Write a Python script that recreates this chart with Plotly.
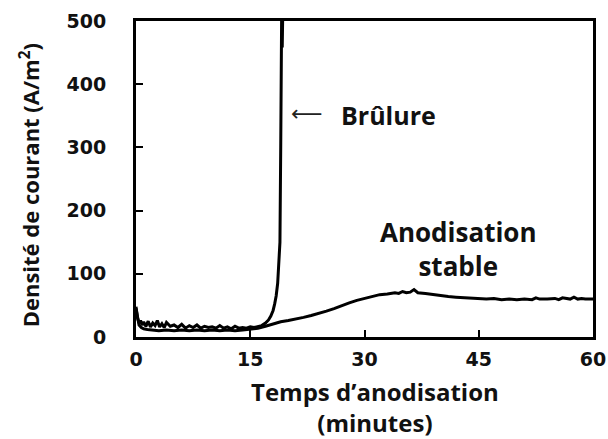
import plotly.graph_objects as go

# --- Data ---
# Run that ends in burning ("Brûlure")
burn_time = [0, 0.2, 0.4, 0.6, 0.8, 1.0, 1.3, 1.6, 1.9, 2.2, 2.5, 2.8, 3.1, 3.4, 3.7, 4.0,
             4.5, 5.0, 5.5, 6.0, 6.5, 7.0, 7.5, 8.0, 8.5, 9.0, 9.5, 10.0, 10.5, 11.0,
             11.5, 12.0, 12.5, 13.0, 13.5, 14.0, 14.5, 15.0, 15.5, 16.0, 16.5, 17.0,
             17.4, 17.7, 18.0, 18.2, 18.4, 18.6, 18.8, 18.9, 19.0, 19.05, 19.1, 19.15,
             19.2, 19.25, 19.3, 19.35, 19.4]
burn_value = [48, 30, 22, 26, 19, 24, 17, 25, 16, 22, 18, 26, 16, 21, 15, 23,
              17, 19, 15, 20, 14, 18, 15, 19, 14, 17, 15, 16, 14, 18,
              14, 16, 13, 17, 14, 15, 14, 16, 15, 16, 18, 22,
              27, 33, 42, 52, 65, 85, 120, 150, 300, 520, 470, 560,
              458, 580, 462, 600, 620]

# Stable anodisation run
stable_time = [0, 0.2, 0.4, 0.7, 1.0, 1.5, 2, 3, 4, 5, 6, 7, 8, 9, 10, 11, 12, 13, 14, 15,
               16, 17, 18, 19, 20, 21, 22, 23, 24, 25, 26, 27, 28, 29, 30,
               31, 32, 33, 34, 34.5, 35, 35.5, 36, 36.5, 37, 38, 39, 40, 41, 42, 43, 44,
               45, 46, 47, 48, 49, 50, 51, 52, 52.5, 53, 54, 55, 55.5, 56, 57, 57.5,
               58, 58.5, 59, 60]
stable_value = [45, 28, 19, 15, 13, 12, 11, 10, 11, 10, 11, 10, 11, 10, 11, 10, 11, 10, 11, 12,
                14, 17, 21, 24, 26, 28, 31, 34, 37, 41, 45, 50, 54, 58, 61,
                64, 67, 68, 70, 69, 72, 70, 71, 75, 70, 69, 67, 65, 64, 63, 62, 61,
                61, 60, 61, 59, 60, 59, 60, 59, 62, 60, 60, 61, 59, 62, 60, 63,
                60, 61, 60, 60]

x_ticks = [0, 15, 30, 45, 60]
y_ticks = [0, 100, 200, 300, 400, 500]

tick_font = dict(family="DejaVu Sans", size=19, color="#111111", weight="bold")

fig = go.Figure()
fig.add_trace(go.Scatter(x=burn_time, y=burn_value, mode="lines",
                         line=dict(color="black", width=3), showlegend=False))
fig.add_trace(go.Scatter(x=stable_time, y=stable_value, mode="lines",
                         line=dict(color="black", width=3), showlegend=False))

fig.update_layout(
    width=608, height=439,
    margin=dict(l=136, r=15, t=21, b=102),
    paper_bgcolor="white", plot_bgcolor="white",
    showlegend=False,
)
fig.update_xaxes(range=[0, 60], tickvals=x_ticks, ticktext=[str(v) for v in x_ticks],
                 showgrid=False, zeroline=False, showline=True, mirror=True,
                 linecolor="black", linewidth=3, ticks="inside", ticklen=7,
                 tickwidth=1.5, tickcolor="black", tickfont=tick_font,
                 ticklabelstandoff=3, automargin=False)
fig.update_yaxes(range=[0, 500], tickvals=y_ticks, ticktext=[str(v) for v in y_ticks],
                 showgrid=False, zeroline=False, showline=True, mirror=True,
                 linecolor="black", linewidth=3, ticks="inside", ticklen=7,
                 tickwidth=1.5, tickcolor="black", tickfont=tick_font,
                 ticklabelstandoff=23, automargin=False)

# Axis titles
fig.add_annotation(text="Densité de courant (A/m<sup>2</sup>)", xref="paper", yref="paper",
                   x=0, y=0.48, xanchor="center", yanchor="middle", xshift=-107,
                   textangle=-90, showarrow=False,
                   font=dict(family="Open Sans", size=22, color="#111111", weight="bold"))
fig.add_annotation(text="Temps d’anodisation<br>(minutes)", xref="paper", yref="paper",
                   x=0.5, y=0, xanchor="center", yanchor="top", xshift=10, yshift=-36,
                   showarrow=False,
                   font=dict(family="Open Sans", size=24, color="#111111", weight="bold"))

# Labels in the plot
fig.add_annotation(text="Brûlure", x=33.2, y=351, xanchor="center", yanchor="middle",
                   showarrow=False, font=dict(family="Open Sans", size=25, color="#111111",
                                               weight="bold"))
fig.add_annotation(text="⟵", x=22.5, y=353, xanchor="center", yanchor="middle",
                   showarrow=False, font=dict(family="DejaVu Sans", size=22, color="#222222"))
fig.add_annotation(text="Anodisation<br>stable", x=42.3, y=140, xanchor="center",
                   yanchor="middle", showarrow=False,
                   font=dict(family="Open Sans", size=26, color="#111111", weight="bold"))

fig.write_html("out.html", config={"displayModeBar": False},
               post_script="document.body.style.margin='0';")
